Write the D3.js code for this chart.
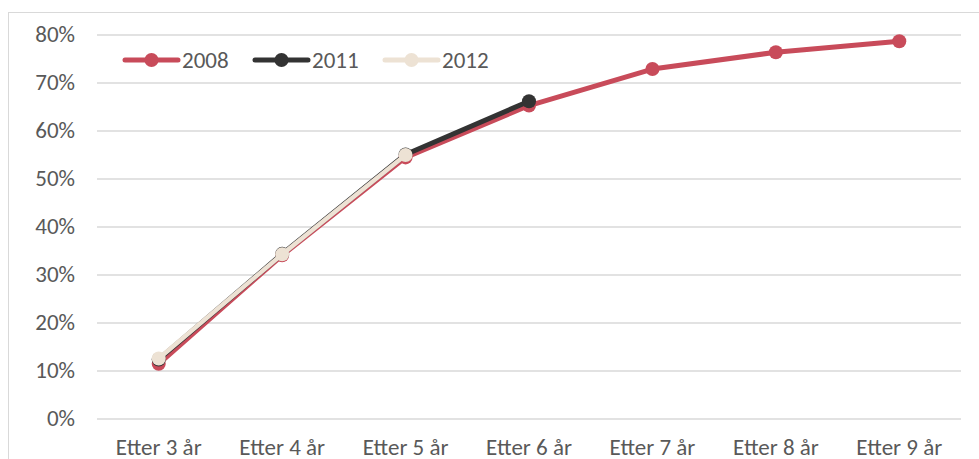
<!DOCTYPE html>
<html><head><meta charset="utf-8">
<script src="https://cdn.jsdelivr.net/npm/d3@7"></script>
<style>body{margin:0;background:#fff}svg{display:block}</style>
</head><body><svg id="c" width="979" height="459"></svg>
<script>
const categories = ["Etter 3 år","Etter 4 år","Etter 5 år","Etter 6 år","Etter 7 år","Etter 8 år","Etter 9 år"];
const series2008 = [11.4, 34.0, 54.4, 65.2, 72.8, 76.3, 78.6];
const series2011 = [12.3, 34.3, 55.0, 66.1];
const series2012 = [12.5, 34.2, 54.9];
const seriesNames = ["2008","2011","2012"];
const seriesColors = ["#C84B5A","#333333","#EDE2D4"];
const yTicks = [0,10,20,30,40,50,60,70,80];

const svg = d3.select("#c");
const font = "Calibri, Carlito, 'Liberation Sans', sans-serif";
const fs = "23px";
const m = {left:97, right:961, top:34.5, bottom:418.5};

svg.append("rect").attr("x",8.5).attr("y",12.5).attr("width",1000).attr("height",500)
  .attr("fill","none").attr("stroke","#D9D9D9").attr("stroke-width",1);

const x = d3.scaleBand().domain(categories).range([m.left,m.right]);
const y = d3.scaleLinear().domain([0,80]).range([m.bottom,m.top]);

const ya = svg.append("g").attr("transform",`translate(${m.left},0)`)
  .call(d3.axisLeft(y).tickValues(yTicks).tickSize(-(m.right-m.left)).tickPadding(22).tickFormat(d=>d+"%"));
ya.select(".domain").remove();
ya.selectAll(".tick line").attr("stroke","#D9D9D9").attr("stroke-width",1.5);
ya.selectAll(".tick text").attr("fill","#595959").style("font-family",font).style("font-size",fs);

const xa = svg.append("g").attr("transform",`translate(0,${m.bottom})`)
  .call(d3.axisBottom(x).tickSize(0).tickPadding(20));
xa.select(".domain").remove();
xa.selectAll(".tick text").attr("fill","#595959").style("font-family",font).style("font-size",fs);

const all = [series2008, series2011, series2012];
const line = d3.line().x((d,i)=>x(categories[i])+x.bandwidth()/2).y(d=>y(d));
all.forEach((s,k)=>{
  const g = svg.append("g");
  g.append("path").datum(s).attr("d",line).attr("fill","none")
    .attr("stroke",seriesColors[k]).attr("stroke-width",k===2?4.5:5).attr("stroke-linejoin","round").attr("stroke-linecap","round");
  g.selectAll("circle").data(s).join("circle")
    .attr("cx",(d,i)=>x(categories[i])+x.bandwidth()/2).attr("cy",d=>y(d)).attr("r",7)
    .attr("fill",seriesColors[k]);
});

// legend
const lx = [123,253,383];
seriesNames.forEach((n,k)=>{
  const g = svg.append("g").attr("transform",`translate(${lx[k]},60)`);
  g.append("line").attr("x1",2).attr("x2",55).attr("stroke",seriesColors[k]).attr("stroke-width",5).attr("stroke-linecap","round");
  g.append("circle").attr("cx",28.5).attr("r",7).attr("fill",seriesColors[k]);
  g.append("text").attr("x",59).attr("y",8).text(n).attr("fill","#595959")
    .style("font-family",font).style("font-size",fs);
});
</script></body></html>
